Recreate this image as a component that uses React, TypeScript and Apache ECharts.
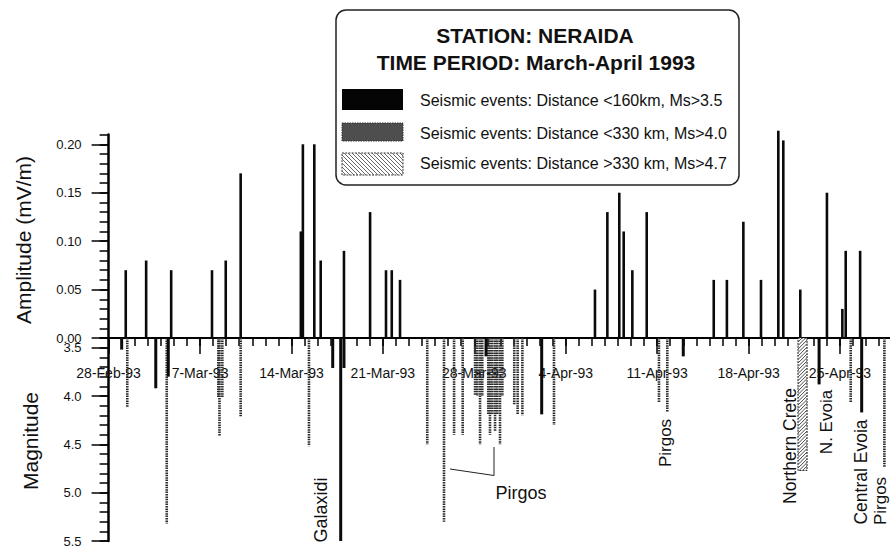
import React, { useEffect, useRef } from 'react';
import * as echarts from 'echarts';

// ---------- data ----------
const weekLabels = ['28-Feb-93', '7-Mar-93', '14-Mar-93', '21-Mar-93', '28-Mar-93', '4-Apr-93', '11-Apr-93', '18-Apr-93', '25-Apr-93'];
const amplitudeTicks = [0, 0.05, 0.1, 0.15, 0.2];
const magnitudeTicks = [3.5, 4.0, 4.5, 5.0, 5.5];

// Amplitude of recorded signals (mV/m)
const amplitudeTimes = [
  '1993-03-01 07:30', '1993-03-02 21:00', '1993-03-04 19:00', '1993-03-07 22:00', '1993-03-08 23:15', '1993-03-10 02:40',
  '1993-03-14 17:15', '1993-03-14 21:00', '1993-03-15 18:00', '1993-03-16 05:45', '1993-03-18 00:30', '1993-03-20 00:30',
  '1993-03-21 05:45', '1993-03-21 16:20', '1993-03-22 07:30', '1993-04-06 05:45', '1993-04-07 04:30', '1993-04-08 02:25',
  '1993-04-08 10:30', '1993-04-09 02:25', '1993-04-10 04:50', '1993-04-15 08:00', '1993-04-16 08:10', '1993-04-17 14:25',
  '1993-04-18 22:50', '1993-04-20 06:40', '1993-04-20 15:50', '1993-04-21 23:00', '1993-04-24 00:00', '1993-04-25 04:20',
  '1993-04-25 10:30', '1993-04-26 13:00',
];
const amplitudeValues = [
  0.07, 0.08, 0.07, 0.07, 0.08, 0.17,
  0.11, 0.20, 0.20, 0.08, 0.09, 0.13,
  0.07, 0.07, 0.06, 0.05, 0.13, 0.15,
  0.11, 0.07, 0.13, 0.06, 0.06, 0.12,
  0.06, 0.214, 0.204, 0.05, 0.15, 0.03,
  0.09, 0.09,
];

// Seismic events: Distance <160 km, Ms>3.5
const nearTimes = [
  '1993-03-01 00:00', '1993-03-03 14:40', '1993-03-04 13:40', '1993-03-17 03:50', '1993-03-17 18:30', '1993-03-18 00:30',
  '1993-03-28 21:35', '1993-04-02 03:50', '1993-04-13 00:00', '1993-04-23 09:35', '1993-04-26 15:50',
];
const nearMagnitudes = [3.52, 3.92, 3.80, 3.71, 5.50, 3.71, 3.59, 4.19, 3.59, 3.88, 4.17];

// Seismic events: Distance <330 km, Ms>4.0
const midTimes = [
  '1993-03-01 10:20', '1993-03-04 10:50', '1993-03-08 09:35', '1993-03-08 11:45', '1993-03-08 17:00', '1993-03-10 02:40',
  '1993-03-15 08:10', '1993-03-24 09:35', '1993-03-25 16:20', '1993-03-26 10:50', '1993-03-27 02:40', '1993-03-28 01:25',
  '1993-03-28 05:30', '1993-03-28 10:35', '1993-03-28 14:40', '1993-03-29 01:40', '1993-03-29 04:50', '1993-03-29 09:10',
  '1993-03-29 14:10', '1993-03-29 18:15', '1993-03-29 23:15', '1993-03-30 03:35', '1993-03-31 01:25', '1993-03-31 07:40',
  '1993-03-31 16:20', '1993-04-03 02:25', '1993-04-11 03:20', '1993-04-11 18:40', '1993-04-25 19:40', '1993-04-28 09:35',
];
const midMagnitudes = [
  4.12, 5.32, 4.02, 4.41, 4.02, 4.21,
  4.52, 4.50, 5.30, 4.40, 4.40, 3.99,
  4.00, 4.50, 4.00, 4.19, 4.40, 4.19,
  4.36, 4.19, 4.50, 4.00, 4.09, 4.19,
  4.20, 4.30, 4.07, 4.17, 4.07, 4.74,
];

// Seismic events: Distance >330 km, Ms>4.7
const farTimes = ['1993-04-22 03:10'];
const farMagnitudes = [4.77];

// ---------- helpers ----------
const START = Date.UTC(1993, 1, 28);
function dayOf(s: string): number {
  const [d, t] = s.split(' ');
  const [Y, M, D] = d.split('-').map(Number);
  const [h, m] = (t || '00:00').split(':').map(Number);
  return (Date.UTC(Y, M - 1, D, h, m) - START) / 86400000;
}
const zip = (ts: string[], vs: number[]) => ts.map((t, i) => [dayOf(t), vs[i]]);

const FONT = '"Liberation Sans", Arial, Helvetica, sans-serif';
const INK = '#111';
const X_MAX = 61;
const AMP_MAX = 0.21;
const MAG_MIN = 3.4;
const MAG_MAX = 5.5;
const GRID_LEFT = 108.6;
const GRID_WIDTH = 796.7;

// diagonal hatch lines clipped to a rectangle; dir 1 => "\" , -1 => "/"
function hatchLines(X0: number, Y0: number, X1: number, Y1: number, step: number, dir: number, stroke: string, lw: number, z?: number) {
  const out: any[] = [];
  const h = Y1 - Y0;
  const w = X1 - X0;
  for (let c = -h; c <= w + h; c += step) {
    let seg: any = null;
    if (dir === 1) {
      const xs = Math.max(X0, X0 + c);
      const xe = Math.min(X1, X0 + c + h);
      if (xe - xs > 0.3) seg = { x1: xs, y1: Y0 + (xs - X0 - c), x2: xe, y2: Y0 + (xe - X0 - c) };
    } else {
      const xs = Math.max(X0, X0 + c - h);
      const xe = Math.min(X1, X0 + c);
      if (xe - xs > 0.3) seg = { x1: xs, y1: Y0 + (c - (xs - X0)), x2: xe, y2: Y0 + (c - (xe - X0)) };
    }
    if (seg) {
      const el: any = { type: 'line', silent: true, shape: seg, style: { stroke, lineWidth: lw } };
      if (z !== undefined) el.z = z;
      out.push(el);
    }
  }
  return out;
}

const solidBar = (w: number, base: number) => (_p: any, api: any) => {
  const x = api.value(0);
  const v = api.value(1);
  const a = api.coord([x, base]);
  const b = api.coord([x, v]);
  return {
    type: 'rect',
    shape: { x: a[0] - w / 2, y: Math.min(a[1], b[1]), width: w, height: Math.abs(a[1] - b[1]) },
    style: { fill: '#0a0a0a' },
  };
};

const stippleBar = (_p: any, api: any) => {
  const x = api.value(0);
  const v = api.value(1);
  const a = api.coord([x, MAG_MIN]);
  const b = api.coord([x, v]);
  return {
    type: 'line',
    shape: { x1: a[0], y1: a[1], x2: b[0], y2: b[1] },
    style: { stroke: '#2a2a2a', lineWidth: 2.6, lineDash: [1.5, 0.9] },
  };
};

const hatchBar = (_p: any, api: any) => {
  const x = api.value(0);
  const v = api.value(1);
  const a = api.coord([x, MAG_MIN]);
  const b = api.coord([x, v]);
  const w = 9;
  const x0 = a[0] - w / 2;
  const children: any[] = [
    { type: 'rect', shape: { x: x0, y: a[1], width: w, height: b[1] - a[1] }, style: { fill: '#fff', stroke: '#222', lineWidth: 1, lineDash: [2, 1] } },
    ...hatchLines(x0, a[1], x0 + w, b[1], 3.5, -1, '#333', 0.9),
  ];
  return { type: 'group', children };
};

const tickStyle = { color: '#000', width: 1.5 };
const labelBase = { color: INK, fontFamily: FONT };

export default function App() {
  const ref = useRef<HTMLDivElement>(null);
  useEffect(() => {
    if (!ref.current) return;
    const chart = echarts.init(ref.current, null, { renderer: 'svg' });

    const grids = [
      { left: GRID_LEFT, top: 134.6, width: GRID_WIDTH, height: 203.4, outerBoundsMode: 'none' },
      { left: GRID_LEFT, top: 338, width: GRID_WIDTH, height: 203, outerBoundsMode: 'none' },
    ];

    const weekValues = weekLabels.map((_, i) => i * 7);

    const option: any = {
      animation: false,
      backgroundColor: '#fff',
      grid: grids,
      xAxis: [
        {
          gridIndex: 0, type: 'value', position: 'bottom', min: 0, max: X_MAX, interval: 1,
          axisLine: { show: true, onZero: false, lineStyle: { color: '#000', width: 2 } },
          axisTick: { show: true, length: 8, lineStyle: tickStyle },
          axisLabel: { show: false },
          splitLine: { show: false },
        },
        {
          gridIndex: 0, type: 'value', position: 'bottom', min: 0, max: X_MAX,
          axisLine: { show: false, onZero: false },
          axisTick: { show: true, length: 16, customValues: weekValues, lineStyle: tickStyle },
          axisLabel: {
            show: true, customValues: weekValues, margin: 28, fontSize: 14, ...labelBase,
            formatter: (v: number) => weekLabels[Math.round(v / 7)] ?? '',
          },
          splitLine: { show: false },
        },
        {
          gridIndex: 1, type: 'value', min: 0, max: X_MAX, show: false,
          axisLine: { show: false, onZero: false }, splitLine: { show: false },
        },
      ],
      yAxis: [
        {
          gridIndex: 0, type: 'value', position: 'left', min: 0, max: AMP_MAX, interval: 0.01,
          axisLine: { show: true, lineStyle: { color: '#000', width: 2.5 } },
          axisTick: { show: true, length: 9, lineStyle: tickStyle },
          axisLabel: { show: false },
          splitLine: { show: false },
        },
        {
          gridIndex: 0, type: 'value', position: 'left', min: 0, max: AMP_MAX,
          axisLine: { show: false },
          axisTick: { show: true, length: 17, customValues: amplitudeTicks, lineStyle: tickStyle },
          axisLabel: { show: true, customValues: amplitudeTicks, margin: 27, fontSize: 13, ...labelBase, formatter: (v: number) => v.toFixed(2) },
          splitLine: { show: false },
        },
        {
          gridIndex: 1, type: 'value', position: 'left', inverse: true, min: MAG_MIN, max: MAG_MAX, interval: 0.1,
          axisLine: { show: true, lineStyle: { color: '#000', width: 2.5 } },
          axisTick: { show: true, length: 9, lineStyle: tickStyle },
          axisLabel: { show: false },
          splitLine: { show: false },
        },
        {
          gridIndex: 1, type: 'value', position: 'left', inverse: true, min: MAG_MIN, max: MAG_MAX,
          axisLine: { show: false },
          axisTick: { show: true, length: 17, customValues: magnitudeTicks, lineStyle: tickStyle },
          axisLabel: { show: true, customValues: magnitudeTicks, margin: 27, fontSize: 13, ...labelBase, formatter: (v: number) => v.toFixed(1) },
          splitLine: { show: false },
        },
      ],
      series: [
        {
          name: 'Amplitude', type: 'custom', xAxisIndex: 0, yAxisIndex: 0, z: 5,
          renderItem: solidBar(2.6, 0), data: zip(amplitudeTimes, amplitudeValues),
        },
        {
          name: 'Distance <330 km, Ms>4.0', type: 'custom', xAxisIndex: 2, yAxisIndex: 2, z: 5,
          renderItem: stippleBar, data: zip(midTimes, midMagnitudes),
        },
        {
          name: 'Distance >330 km, Ms>4.7', type: 'custom', xAxisIndex: 2, yAxisIndex: 2, z: 5,
          renderItem: hatchBar, data: zip(farTimes, farMagnitudes),
        },
        {
          name: 'Distance <160 km, Ms>3.5', type: 'custom', xAxisIndex: 2, yAxisIndex: 2, z: 6,
          renderItem: solidBar(3, MAG_MIN), data: zip(nearTimes, nearMagnitudes),
        },
      ],
      graphic: [
        // axis titles
        { type: 'text', x: 23, y: 240, rotation: Math.PI / 2, style: { text: 'Amplitude (mV/m)', fontSize: 21, fontFamily: FONT, fill: INK, align: 'center', verticalAlign: 'middle' } },
        { type: 'text', x: 30, y: 441, rotation: Math.PI / 2, style: { text: 'Magnitude', fontSize: 21, fontFamily: FONT, fill: INK, align: 'center', verticalAlign: 'middle' } },
        // legend box
        { type: 'rect', z: 10, shape: { x: 336, y: 10, width: 403, height: 175, r: 10 }, style: { fill: '#fff', stroke: '#222', lineWidth: 1.5 } },
        { type: 'text', z: 11, x: 535, y: 35, style: { text: 'STATION: NERAIDA', fontSize: 21, fontWeight: 'bold', fontFamily: FONT, fill: INK, align: 'center', verticalAlign: 'middle' } },
        { type: 'text', z: 11, x: 536, y: 62, style: { text: 'TIME PERIOD: March-April 1993', fontSize: 21, fontWeight: 'bold', fontFamily: FONT, fill: INK, align: 'center', verticalAlign: 'middle' } },
        { type: 'rect', z: 11, shape: { x: 342, y: 89, width: 61, height: 21 }, style: { fill: '#050505' } },
        { type: 'rect', z: 11, shape: { x: 342, y: 123, width: 61, height: 18 }, style: { fill: '#4e4e4e', stroke: '#333', lineWidth: 1, lineDash: [1.5, 1] } },
        { type: 'rect', z: 11, shape: { x: 342, y: 153, width: 61, height: 22 }, style: { fill: '#fff', stroke: '#333', lineWidth: 1, lineDash: [2, 1.2] } },
        ...hatchLines(342, 153, 403, 175, 4, 1, '#444', 0.8, 12),
        { type: 'text', z: 11, x: 420, y: 100, style: { text: 'Seismic events: Distance <160km, Ms>3.5', fontSize: 16, fontFamily: FONT, fill: INK, align: 'left', verticalAlign: 'middle' } },
        { type: 'text', z: 11, x: 420, y: 133, style: { text: 'Seismic events: Distance <330 km, Ms>4.0', fontSize: 16, fontFamily: FONT, fill: INK, align: 'left', verticalAlign: 'middle' } },
        { type: 'text', z: 11, x: 420, y: 163, style: { text: 'Seismic events: Distance >330 km, Ms>4.7', fontSize: 16, fontFamily: FONT, fill: INK, align: 'left', verticalAlign: 'middle' } },
        // annotations
        { type: 'text', x: 320.5, y: 510, rotation: Math.PI / 2, style: { text: 'Galaxidi', fontSize: 18, fontFamily: FONT, fill: INK, align: 'center', verticalAlign: 'middle' } },
        { type: 'text', x: 521, y: 493, style: { text: 'Pirgos', fontSize: 18, fontFamily: FONT, fill: INK, align: 'center', verticalAlign: 'middle' } },
        { type: 'polyline', shape: { points: [[450, 469], [494, 475.5], [494, 447]] }, style: { stroke: '#222', lineWidth: 1, fill: 'none' } },
        { type: 'text', x: 665, y: 443, rotation: Math.PI / 2, style: { text: 'Pirgos', fontSize: 17, fontFamily: FONT, fill: INK, align: 'center', verticalAlign: 'middle' } },
        { type: 'text', x: 790, y: 446, rotation: Math.PI / 2, style: { text: 'Northern Crete', fontSize: 17.5, fontFamily: FONT, fill: INK, align: 'center', verticalAlign: 'middle' } },
        { type: 'text', x: 826, y: 422, rotation: Math.PI / 2, style: { text: 'N. Evoia', fontSize: 17, fontFamily: FONT, fill: INK, align: 'center', verticalAlign: 'middle' } },
        { type: 'text', x: 861, y: 472, rotation: Math.PI / 2, style: { text: 'Central Evoia', fontSize: 17.5, fontFamily: FONT, fill: INK, align: 'center', verticalAlign: 'middle' } },
        { type: 'text', x: 880, y: 501, rotation: Math.PI / 2, style: { text: 'Pirgos', fontSize: 17, fontFamily: FONT, fill: INK, align: 'center', verticalAlign: 'middle' } },
      ],
    };

    chart.setOption(option);
    return () => chart.dispose();
  }, []);

  return <div ref={ref} style={{ position: 'fixed', left: 0, top: 0, width: 890, height: 550, background: '#fff' }} />;
}
